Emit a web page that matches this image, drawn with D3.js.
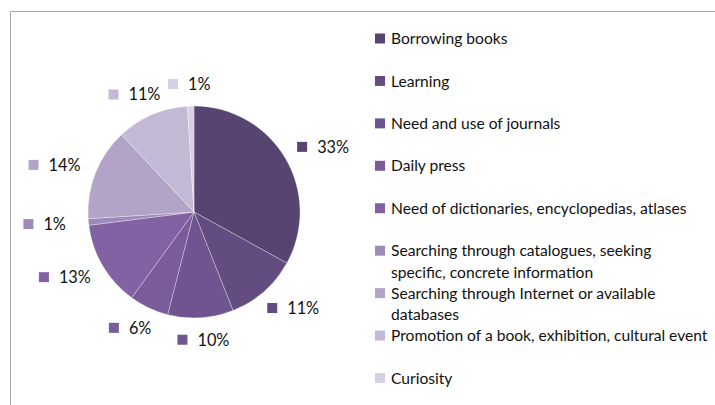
<!DOCTYPE html>
<html>
<head>
<meta charset="utf-8">
<script src="https://cdn.jsdelivr.net/npm/d3@7"></script>
<style>
  html, body { margin: 0; padding: 0; background: #fff; }
  svg { display: block; }
  text { font-family: Lato, "Open Sans", sans-serif; fill: #111; }
</style>
</head>
<body>
<svg id="chart" width="715" height="405"></svg>
<script>
// Reasons for visiting the library, share of respondents (%)
const categories = [
  "Borrowing books",
  "Learning",
  "Need and use of journals",
  "Daily press",
  "Need of dictionaries, encyclopedias, atlases",
  "Searching through catalogues, seeking\nspecific, concrete information",
  "Searching through Internet or available\ndatabases",
  "Promotion of a book, exhibition, cultural event",
  "Curiosity"
];
const values = [33, 11, 10, 6, 13, 1, 14, 11, 1];
const valueLabels = ["33%", "11%", "10%", "6%", "13%", "1%", "14%", "11%", "1%"];

const palette = ["#574470", "#634d80", "#6e558f", "#7a5c9b", "#8262a3",
                 "#9e8ab8", "#b2a3c7", "#c4b9d5", "#d7d0e2"];

const W = 715, H = 405;
const svg = d3.select("#chart");

// chart-area frame (left and top edges)
svg.append("path")
  .attr("d", `M10.5,${H} V11.5 H${W}`)
  .attr("fill", "none")
  .attr("stroke", "#a6a6a6")
  .attr("stroke-width", 1);

const color = d3.scaleOrdinal().domain(categories).range(palette);

// pie
const cx = 194, cy = 212, R = 106;
const pie = d3.pie().sort(null).value(d => d.v);
const data = categories.map((c, i) => ({ c, v: values[i], lab: valueLabels[i] }));
const arcs = pie(data);
const arc = d3.arc().innerRadius(0).outerRadius(R);

const g = svg.append("g").attr("transform", `translate(${cx},${cy})`);
g.selectAll("path.slice")
  .data(arcs)
  .enter().append("path")
  .attr("class", "slice")
  .attr("d", arc)
  .attr("fill", d => color(d.data.c))
  .attr("stroke", "#ffffff")
  .attr("stroke-opacity", 0.5)
  .attr("stroke-width", 0.6);

// value labels: marker square + percentage, set outside the rim on the slice mid-angle
const rx = 150, ry = 128, sq = 10, gap = 10;
const labels = g.selectAll("g.vlab")
  .data(arcs)
  .enter().append("g")
  .attr("class", "vlab");

labels.each(function(d) {
  const sel = d3.select(this);
  const t = sel.append("text")
    .attr("font-size", 16.3)
    .attr("dy", "0.36em")
    .text(d.data.lab);
  const tw = t.node().getComputedTextLength();
  const bw = sq + gap + tw;
  const a = (d.startAngle + d.endAngle) / 2;
  const mx = Math.sin(a) * rx, my = -Math.cos(a) * ry;
  const left = mx - bw / 2;
  sel.insert("rect", "text")
    .attr("x", left).attr("y", my - sq / 2)
    .attr("width", sq).attr("height", sq)
    .attr("fill", color(d.data.c));
  t.attr("x", left + sq + gap).attr("y", my);
});

// legend
const ly = d3.scalePoint().domain(categories).range([38.5, 378]);
const legend = svg.append("g").attr("class", "legend");
const items = legend.selectAll("g.item")
  .data(categories)
  .enter().append("g")
  .attr("class", "item")
  .attr("transform", d => `translate(375,${ly(d)})`);

items.append("rect")
  .attr("x", 0).attr("y", -5)
  .attr("width", 10).attr("height", 10)
  .attr("fill", d => color(d));

items.append("text")
  .attr("font-size", 15.6)
  .each(function(d) {
    const lines = d.split("\n");
    d3.select(this).selectAll("tspan")
      .data(lines)
      .enter().append("tspan")
      .attr("x", 16)
      .attr("y", (l, i) => i * 21.5)
      .attr("dy", "0.36em")
      .text(l => l);
  });
</script>
</body>
</html>
